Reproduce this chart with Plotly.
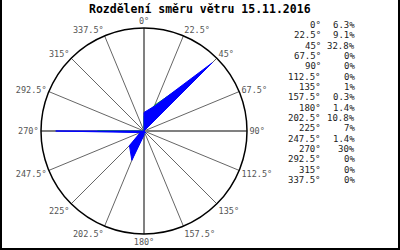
import plotly.graph_objects as go

directions = [0, 22.5, 45, 67.5, 90, 112.5, 135, 157.5, 180, 202.5, 225, 247.5, 270, 292.5, 315, 337.5]
dir_labels = ["0°", "22.5°", "45°", "67.5°", "90°", "112.5°", "135°", "157.5°", "180°", "202.5°",
              "225°", "247.5°", "270°", "292.5°", "315°", "337.5°"]
percent = [6.3, 9.1, 32.8, 0, 0, 0, 1, 0.3, 1.4, 10.8, 7, 1.4, 30, 0, 0, 0]
percent_labels = ["6.3%", "9.1%", "32.8%", "0%", "0%", "0%", "1%", "0.3%", "1.4%", "10.8%",
                  "7%", "1.4%", "30%", "0%", "0%", "0%"]
secondary = [5, 9.5, 28, 0, 0, 0, 0.5, 0.2, 1, 8, 5, 1, 15.8, 0, 0, 0]
title = "Rozdělení směru větru 15.11.2016"
r_max = 35

mono = "DejaVu Sans Mono"
fig = go.Figure()

# cardinal guide lines (thicker)
for d in [0, 90, 180, 270]:
    fig.add_trace(go.Scatterpolar(r=[0, r_max], theta=[d, d], mode="lines",
                                  line=dict(color="#808080", width=2), hoverinfo="skip",
                                  showlegend=False))

fig.add_trace(go.Scatterpolar(r=secondary + [secondary[0]], theta=directions + [directions[0]],
                              mode="lines", line=dict(color="#00cc00", width=1),
                              showlegend=False))
fig.add_trace(go.Scatterpolar(r=percent + [percent[0]], theta=directions + [directions[0]],
                              mode="lines", fill="toself", fillcolor="#0000ff",
                              line=dict(color="#0000ff", width=1), showlegend=False))

cx, cy, R = 144, 131, 103
W, H = 400, 250
fig.update_layout(
    width=W, height=H,
    margin=dict(l=0, r=0, t=0, b=0),
    paper_bgcolor="white", plot_bgcolor="white",
    showlegend=False,
    polar=dict(
        domain=dict(x=[(cx - R) / W, (cx + R) / W], y=[(H - cy - R) / H, (H - cy + R) / H]),
        bgcolor="white",
        radialaxis=dict(visible=False, range=[0, r_max], showgrid=False),
        angularaxis=dict(rotation=90, direction="clockwise", tickmode="array",
                         tickvals=directions, ticktext=dir_labels, ticks="",
                         showline=True, linecolor="black", linewidth=1.5,
                         gridcolor="#666666", gridwidth=1,
                         tickfont=dict(family=mono, size=8.5, color="#555555")),
    ),
)

fig.add_annotation(x=0.5, y=(H - 8.5) / H, xref="paper", yref="paper", text="<b>" + title + "</b>",
                   showarrow=False, xanchor="center", yanchor="middle",
                   font=dict(family=mono, size=11.5, color="black"))

row0, step = 25, 10.33
for i, (dl, pl) in enumerate(zip(dir_labels, percent_labels)):
    y = (H - (row0 + i * step)) / H
    fig.add_annotation(x=323 / W, y=y, xref="paper", yref="paper", text=dl, showarrow=False,
                       xanchor="right", yanchor="middle",
                       font=dict(family=mono, size=9, color="#222222"))
    fig.add_annotation(x=357 / W, y=y, xref="paper", yref="paper", text=pl, showarrow=False,
                       xanchor="right", yanchor="middle",
                       font=dict(family=mono, size=9, color="#222222"))

# frame (left, right, bottom)
fig.add_shape(type="path", xref="paper", yref="paper",
              path="M 0.0025 1.1 L 0.0025 0.004 L 0.9975 0.004 L 0.9975 1.1",
              line=dict(color="black", width=2))

fig.write_html("out.html")
